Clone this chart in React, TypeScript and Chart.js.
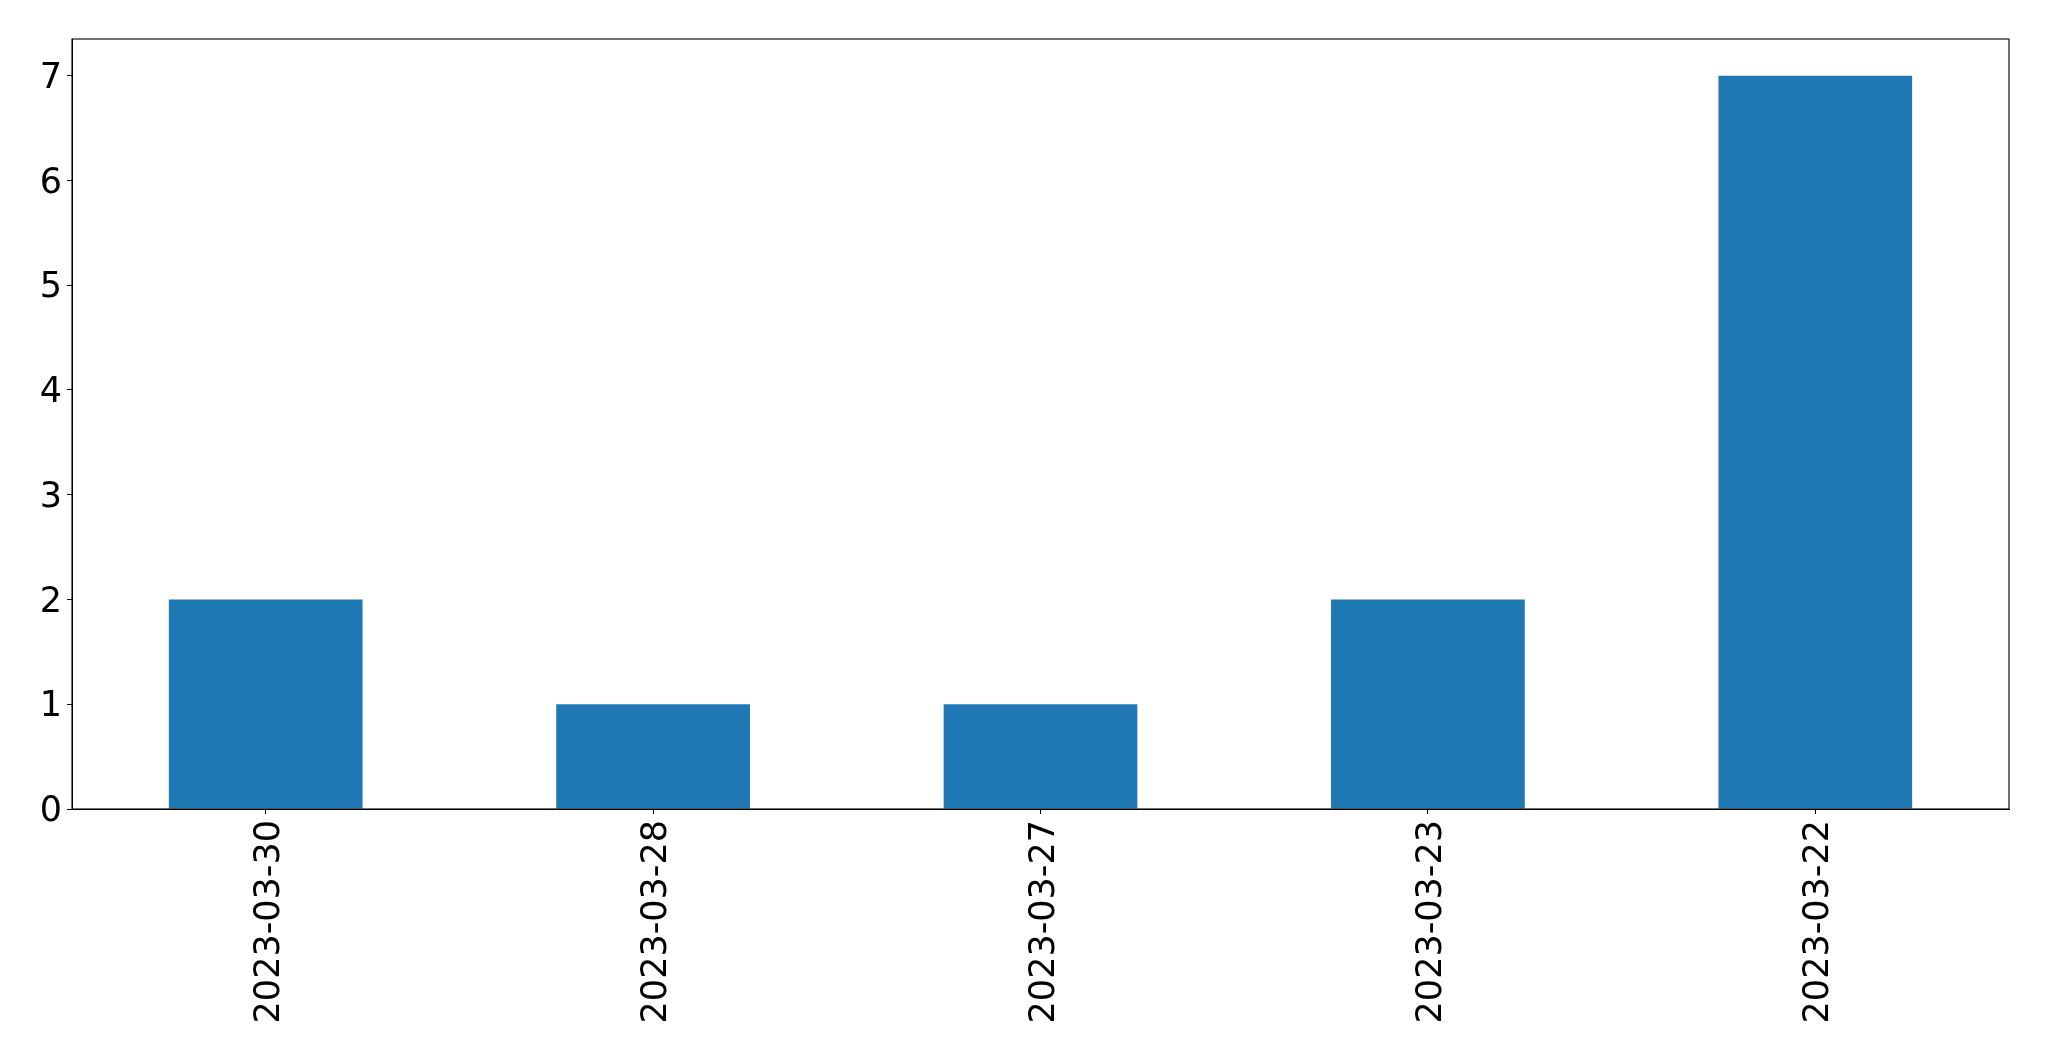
import React, { useEffect, useRef } from "react";
import { Chart, registerables } from "chart.js";

Chart.register(...registerables);

const categories = ["2023-03-30", "2023-03-28", "2023-03-27", "2023-03-23", "2023-03-22"];
const counts = [2, 1, 1, 2, 7];
const yTicks = [0, 1, 2, 3, 4, 5, 6, 7];
const yMax = 7.35;

const framePlugin = {
  id: "frame",
  afterDraw(chart: any) {
    const { ctx, chartArea } = chart;
    ctx.save();
    ctx.strokeStyle = "#000";
    ctx.lineWidth = 1.1;
    ctx.strokeRect(chartArea.left, chartArea.top, chartArea.right - chartArea.left, chartArea.bottom - chartArea.top);
    ctx.restore();
  },
};

export default function App() {
  const ref = useRef<HTMLCanvasElement | null>(null);
  useEffect(() => {
    if (!ref.current) return;
    const font = { family: "DejaVu Sans", size: 35 };
    const chart = new Chart(ref.current, {
      type: "bar",
      data: {
        labels: categories,
        datasets: [
          {
            data: counts,
            backgroundColor: "#1f77b4",
            borderWidth: 0,
            categoryPercentage: 1,
            barPercentage: 0.5,
          },
        ],
      },
      options: {
        animation: false,
        responsive: false,
        devicePixelRatio: 1,
        layout: { padding: { top: 39, right: 40, left: 0, bottom: 0 } },
        plugins: { legend: { display: false }, tooltip: { enabled: false } },
        scales: {
          x: {
            type: "category",
            offset: true,
            grid: { display: true, drawOnChartArea: false, drawTicks: true, tickLength: 5, color: "#000", offset: false },
            border: { display: true, color: "#000", width: 1 },
            ticks: { color: "#000", font, minRotation: 90, maxRotation: 90, padding: 6, autoSkip: false, labelOffset: 4 },
            afterFit: (s: any) => { s.height = 252; },
          },
          y: {
            min: 0,
            max: yMax,
            grid: { display: true, drawOnChartArea: false, drawTicks: true, tickLength: 5, color: "#000" },
            border: { display: true, color: "#000", width: 1 },
            ticks: { color: "#000", font, padding: 5, labelOffset: 3 },
            afterBuildTicks: (s: any) => { s.ticks = yTicks.map((v) => ({ value: v })); },
            afterFit: (s: any) => { s.width = 72; },
          },
        },
      },
      plugins: [framePlugin],
    });
    return () => chart.destroy();
  }, []);
  return (
    <div style={{ position: "absolute", left: 0, top: 0, width: 2049, height: 1061, background: "#fff" }}>
      <canvas ref={ref} width={2049} height={1061} style={{ display: "block" }} />
    </div>
  );
}
